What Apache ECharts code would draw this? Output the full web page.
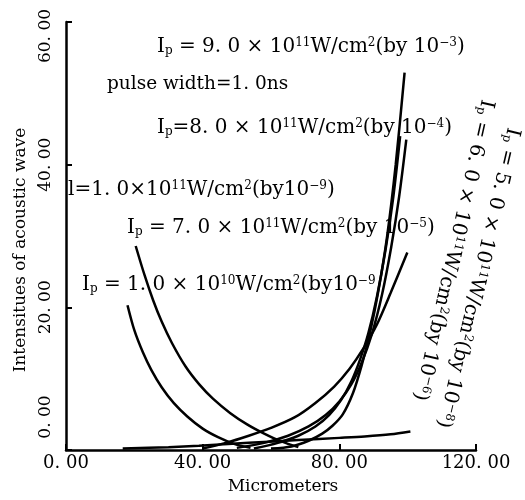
<!DOCTYPE html>
<html>
<head>
<meta charset="utf-8">
<script src="https://cdn.jsdelivr.net/npm/echarts@6/dist/echarts.min.js"></script>
<style>
html, body {margin: 0; padding: 0; background: #fff;}
#main {width: 525px; height: 500px;}
</style>
</head>
<body>
<div id="main"></div>
<script>
// tick labels
var xTickLabels = ['0. 00', '40. 00', '80. 00', '120. 00'];
var yTickLabels = ['0. 00', '20. 00', '40. 00', '60. 00'];

// curves: [micrometers, intensity]
var ip90 = [[60, 0.2], [66, 0.5], [71, 1.3], [75, 2.3], [78, 3.4], [81, 5.0], [84, 8.0], [86.5, 11.8], [89, 16.5], [91.5, 22.5], [94, 30], [96.5, 40], [99.1, 52.9]];
var ip80 = [[55, 0.2], [62, 1.0], [68, 2.0], [73, 3.3], [77, 4.9], [80.5, 7.0], [83.5, 9.6], [86, 12.6], [88.5, 16.4], [91, 21.5], [93.5, 28], [95.8, 35.5], [97.8, 44]];
var ip70 = [[50, 0.3], [58, 1.0], [65, 2.0], [71, 3.3], [76, 4.9], [80, 6.8], [83.5, 9.2], [86.5, 12.2], [89.5, 16.2], [92.5, 21.8], [95.2, 28.5], [97.5, 35.5], [99.6, 43.5]];
var ip60 = [[40, 0.2], [46.8, 1.0], [53.5, 2.0], [60, 3.1], [67, 4.6], [73, 6.6], [78.5, 8.9], [83, 11.4], [87, 14.2], [91, 17.6], [95, 22.0], [99.9, 27.7]];
var ip50 = [[16.6, 0.2], [30, 0.4], [38.9, 0.6], [53.5, 1.0], [68, 1.4], [80, 1.7], [87.4, 1.9], [95, 2.2], [100.8, 2.6]];
var i10e11 = [[20.4, 28.6], [23, 24.5], [25.5, 21.0], [28, 18.0], [31, 15.0], [35, 11.7], [39, 9.2], [43, 7.2], [48, 5.2], [53, 3.6], [58, 2.3], [63, 1.2], [68, 0.4]];
var ip10e10 = [[18, 20.3], [20, 16.8], [22.5, 13.7], [25, 11.2], [28, 8.8], [31.5, 6.6], [35.5, 4.7], [40, 3.0], [44.5, 1.8], [49, 0.9], [54, 0.3]];

var curves = [ip90, ip80, ip70, ip60, ip50, i10e11, ip10e10];

// annotation texts (rich: n normal, s subscript, u superscript)
var txt90 = '{n|I}{s|p}{n| = 9. 0 × 10}{u|11}{n|W/cm}{u|2}{n|(by 10}{u|−3}{n|)}';
var txtPulse = 'pulse width=1. 0ns';
var txt80 = '{n|I}{s|p}{n|=8. 0 × 10}{u|11}{n|W/cm}{u|2}{n|(by 10}{u|−4}{n|)}';
var txt11 = '{n|l=1. 0×10}{u|11}{n|W/cm}{u|2}{n|(by10}{u|−9}{n|)}';
var txt70 = '{n|I}{s|p}{n| = 7. 0 × 10}{u|11}{n|W/cm}{u|2}{n|(by 10}{u|−5}{n|)}';
var txt10 = '{n|I}{s|p}{n| = 1. 0 × 10}{u|10}{n|W/cm}{u|2}{n|(by10}{u|−9}';
var txt60 = '{n|I}{s|p}{n| = 6. 0 × 10}{u|11}{n|W/cm}{u|2}{n|(by 10}{u|−6}{n|)}';
var txt50 = '{n|I}{s|p}{n| = 5. 0 × 10}{u|11}{n|W/cm}{u|2}{n|(by 10}{u|−8}{n|)}';

var serif = 'DejaVu Serif';
var rich = {
    n: {fontSize: 20, fontFamily: serif, fill: '#000'},
    s: {fontSize: 12, fontFamily: serif, fill: '#000', verticalAlign: 'bottom'},
    u: {fontSize: 12, fontFamily: serif, fill: '#000', verticalAlign: 'top'}
};

function label(text, x, y, rot, size) {
    return {
        type: 'text',
        x: x,
        y: y,
        rotation: rot || 0,
        style: {
            text: text,
            rich: rich,
            font: (size || 20) + 'px "DejaVu Serif"',
            fill: '#000',
            align: 'left',
            verticalAlign: 'middle'
        }
    };
}

var chart = echarts.init(document.getElementById('main'));
chart.setOption({
    animation: false,
    backgroundColor: '#fff',
    grid: {left: 66, top: 22, right: 49, bottom: 50},
    xAxis: {
        type: 'value',
        min: 0,
        max: 120,
        interval: 40,
        name: 'Micrometers',
        nameLocation: 'middle',
        nameGap: 28,
        nameTextStyle: {fontFamily: serif, fontSize: 17, color: '#000', padding: [0, 0, 0, 24]},
        axisLine: {lineStyle: {color: '#000', width: 2.5}},
        axisTick: {inside: true, length: 6, lineStyle: {color: '#000', width: 2}},
        splitLine: {show: false},
        axisLabel: {
            margin: 4,
            fontFamily: serif,
            fontSize: 18,
            color: '#000',
            formatter: function (v) { return xTickLabels[v / 40]; }
        }
    },
    yAxis: {
        type: 'value',
        min: 0,
        max: 60,
        interval: 20,
        name: 'Intensitues of acoustic wave',
        nameLocation: 'middle',
        nameGap: 26,
        nameRotate: 90,
        nameTextStyle: {fontFamily: serif, fontSize: 17, color: '#000', padding: [0, 28, 0, 0]},
        axisLine: {show: true, lineStyle: {color: '#000', width: 2.5}},
        axisTick: {show: true, inside: true, length: 6, lineStyle: {color: '#000', width: 2}},
        splitLine: {show: false},
        axisLabel: {
            rotate: 90,
            margin: 12,
            fontFamily: serif,
            fontSize: 17,
            color: '#000',
            formatter: function (v) {
                var t = yTickLabels[v / 20];
                if (v === 60) return '{top|' + t + '}';
                if (v === 0) return '{bot|' + t + '}';
                return t;
            },
            rich: {
                top: {fontFamily: serif, fontSize: 17, color: '#000', padding: [0, 28, 0, 0]},
                bot: {fontFamily: serif, fontSize: 17, color: '#000', padding: [0, 0, 0, 66]}
            }
        }
    },
    series: curves.map(function (d) {
        return {
            type: 'line',
            data: d,
            smooth: 0.3,
            symbol: 'none',
            clip: false,
            lineStyle: {color: '#000', width: 2.5}
        };
    }),
    graphic: [
        label(txt90, 157, 47),
        label(txtPulse, 107, 84, 0, 18.5),
        label(txt80, 157, 128),
        label(txt11, 68, 190),
        label(txt70, 127, 228),
        label(txt10, 82, 285),
        label(txt60, 487, 100, -1.792),
        label(txt50, 513, 128, -1.801)
    ]
});
</script>
</body>
</html>
